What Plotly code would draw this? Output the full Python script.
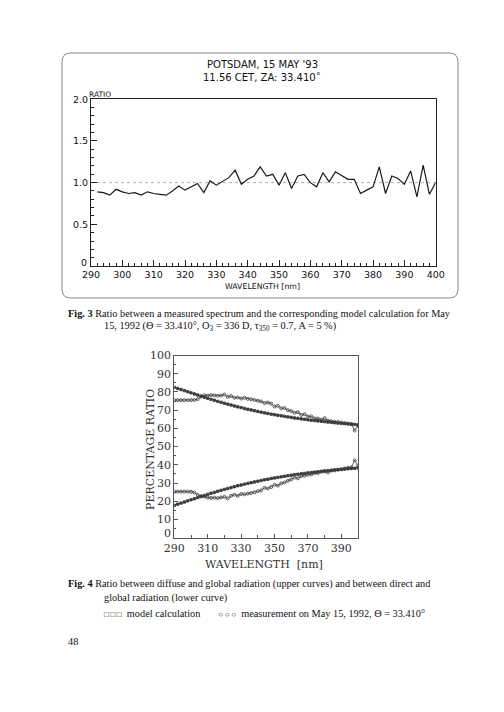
import plotly.graph_objects as go

# the page body adds an 8 px margin, so the figure is drawn 8 px in and down
OFF = 8
W, H = 504 - OFF, 712 - OFF

# ---------------- Fig. 3 data ----------------
wl3 = list(range(292, 401, 2))
ratio3 = [0.89, 0.88, 0.85, 0.92, 0.89, 0.87, 0.88, 0.85, 0.89, 0.87,
          0.86, 0.85, 0.90, 0.96, 0.91, 0.95, 0.99, 0.88, 1.02, 0.97,
          1.01, 1.06, 1.15, 0.98, 1.04, 1.08, 1.19, 1.08, 1.10, 0.97,
          1.12, 0.93, 1.08, 1.10, 1.00, 0.95, 1.12, 1.01, 1.13, 1.08,
          1.04, 1.04, 0.87, 0.91, 0.95, 1.19, 0.87, 1.08, 1.05, 0.98,
          1.14, 0.83, 1.21, 0.86, 1.00]
x3_ticks = list(range(290, 401, 10))
y3_ticks = [0.5, 1.0, 1.5, 2.0]
y3_ticktext = ["0.5", "1.0", "1.5", "2.0"]

# ---------------- Fig. 4 data ----------------
wl4 = list(range(290, 401, 2))
upper_model = [82.5, 81.9, 81.3, 80.7, 80.1, 79.5, 78.9, 78.3, 77.7, 77.1,
               76.5, 75.9, 75.4, 74.8, 74.3, 73.8, 73.3, 72.8, 72.3, 71.8,
               71.4, 70.9, 70.5, 70.1, 69.7, 69.3, 68.9, 68.5, 68.2, 67.8,
               67.5, 67.2, 66.9, 66.6, 66.3, 66.0, 65.7, 65.5, 65.2, 65.0,
               64.7, 64.5, 64.3, 64.1, 63.9, 63.7, 63.5, 63.3, 63.1, 62.9,
               62.8, 62.6, 62.5, 62.3, 62.2, 62.0]
upper_meas = [75.5, 75.5, 75.5, 75.5, 75.5, 75.5, 75.6, 76.0, 77.5, 78.2,
              78.0, 78.3, 78.1, 77.9, 78.0, 78.6, 77.3, 77.8, 76.8, 77.0,
              76.4, 76.8, 76.2, 76.0, 75.6, 75.2, 74.8, 73.9, 74.2, 73.6,
              72.0, 72.4, 71.0, 71.2, 70.0, 69.5, 68.6, 68.9, 67.4, 67.8,
              66.5, 66.6, 65.5, 65.4, 64.8, 65.6, 64.2, 64.0, 63.6, 63.5,
              63.2, 62.9, 62.6, 62.4, 58.8, 61.5]
lower_model = [17.8, 18.4, 19.0, 19.6, 20.2, 20.8, 21.4, 22.0, 22.6, 23.2,
               23.8, 24.4, 24.9, 25.5, 26.0, 26.5, 27.0, 27.5, 28.0, 28.5,
               28.9, 29.4, 29.8, 30.2, 30.6, 31.0, 31.4, 31.8, 32.1, 32.5,
               32.8, 33.1, 33.4, 33.7, 34.0, 34.3, 34.6, 34.8, 35.1, 35.3,
               35.6, 35.8, 36.0, 36.2, 36.4, 36.6, 36.8, 37.0, 37.2, 37.4,
               37.5, 37.7, 37.8, 38.0, 38.1, 38.3]
lower_meas = [25.3, 25.3, 25.3, 25.3, 25.3, 25.2, 24.8, 23.5, 22.8, 22.5,
              22.0, 21.8, 22.0, 21.7, 22.1, 22.4, 21.6, 23.0, 23.6, 23.0,
              24.0, 23.8, 24.2, 24.5, 24.9, 25.5, 26.0, 27.4, 27.0, 27.8,
              29.0, 28.6, 29.8, 30.3, 31.2, 32.0, 33.0, 32.6, 33.8, 34.0,
              34.6, 34.7, 35.4, 35.5, 36.2, 36.4, 35.8, 36.8, 36.9, 37.3,
              37.6, 38.0, 38.4, 38.6, 42.5, 39.5]
x4_ticks = list(range(290, 391, 20))
y4_ticks = list(range(10, 101, 10))


def px(x):
    return (x - OFF) / W


def py(y):
    return 1 - (y - OFF) / H


fig = go.Figure()

# Fig. 3 line
fig.add_trace(go.Scatter(x=wl3, y=ratio3, mode="lines",
                         line=dict(color="#1a1a1a", width=1.2),
                         xaxis="x", yaxis="y", showlegend=False))

# Fig. 4 curves
for ys, sym, sz in [(upper_model, "square", 2.4), (upper_meas, "circle-open", 3),
                    (lower_model, "square", 2.4), (lower_meas, "circle-open", 3)]:
    fig.add_trace(go.Scatter(x=wl4, y=ys, mode="lines+markers",
                             line=dict(color="#3a3a3a", width=0.8),
                             marker=dict(symbol=sym, size=sz, color="#3a3a3a",
                                         line=dict(color="#3a3a3a", width=0.8)),
                             xaxis="x2", yaxis="y2", showlegend=False))

sans = "DejaVu Sans, sans-serif"
serif_fig = "DejaVu Serif, serif"
times = "Liberation Serif, Times New Roman, serif"

fig.update_layout(
    width=W, height=H,
    margin=dict(l=0, r=0, t=0, b=0, pad=0, autoexpand=False),
    paper_bgcolor="white", plot_bgcolor="white",
    xaxis=dict(domain=[px(91), px(435.7)], range=[290, 400], automargin=False,
               tickvals=x3_ticks, ticks="inside", ticklen=6, tickwidth=1,
               tickcolor="#222", showline=True, linecolor="#222", linewidth=1,
               mirror=True, showgrid=False, zeroline=False,
               tickfont=dict(family=sans, size=9.5, color="#111"),
               minor=dict(dtick=2, tick0=290, ticks="inside", ticklen=3,
                          tickcolor="#222", showgrid=False),
               anchor="y"),
    yaxis=dict(domain=[py(266), py(99.3)], range=[0, 2], automargin=False,
               tickvals=y3_ticks, ticktext=y3_ticktext,
               ticks="inside", ticklen=6, tickwidth=1, tickcolor="#222",
               showline=True, linecolor="#222", linewidth=1, mirror=True,
               showgrid=False, zeroline=False,
               tickfont=dict(family=sans, size=9.5, color="#111"),
               minor=dict(dtick=0.1, tick0=0, ticks="inside", ticklen=3,
                          tickcolor="#222", showgrid=False),
               anchor="x"),
    xaxis2=dict(domain=[px(174.3), px(358)], range=[290, 400], automargin=False,
                tickvals=x4_ticks, ticks="inside", ticklen=4, tickwidth=1,
                tickcolor="#555", showline=True, linecolor="#555",
                linewidth=1, mirror=True, showgrid=False, zeroline=False,
                tickfont=dict(family=serif_fig, size=11, color="#333"),
                minor=dict(dtick=10, tick0=290, ticks="inside", ticklen=3,
                           tickcolor="#555", showgrid=False),
                anchor="y2"),
    yaxis2=dict(domain=[py(537.7), py(355.5)], range=[0, 100], automargin=False,
                tickvals=y4_ticks, ticks="inside", ticklen=4, tickwidth=1,
                tickcolor="#555", showline=True, linecolor="#555",
                linewidth=1, mirror=True, showgrid=False, zeroline=False,
                tickfont=dict(family=serif_fig, size=11, color="#333"),
                minor=dict(dtick=5, tick0=0, ticks="inside", ticklen=2,
                           tickcolor="#555", showgrid=False),
                anchor="x2"),
)

# reference line at ratio 1.0
fig.add_shape(type="line", xref="x", yref="y", x0=290, x1=400, y0=1, y1=1,
              line=dict(color="#aaaaaa", width=1, dash="dot"), layer="below")

# rounded frame around Fig. 3
L, R, T, B, r = 62, 458, 53, 298, 9
path = (f"M {px(L + r)},{py(T)} L {px(R - r)},{py(T)} "
        f"Q {px(R)},{py(T)} {px(R)},{py(T + r)} "
        f"L {px(R)},{py(B - r)} Q {px(R)},{py(B)} {px(R - r)},{py(B)} "
        f"L {px(L + r)},{py(B)} Q {px(L)},{py(B)} {px(L)},{py(B - r)} "
        f"L {px(L)},{py(T + r)} Q {px(L)},{py(T)} {px(L + r)},{py(T)} Z")
fig.add_shape(type="path", xref="paper", yref="paper", path=path,
              line=dict(color="#888888", width=1))


def ann(text, x, y, size, family, xanchor="center", color="#111", angle=0):
    fig.add_annotation(text=text, x=px(x), y=py(y), xref="paper",
                       yref="paper", xanchor=xanchor, yanchor="middle",
                       showarrow=False, textangle=angle, borderpad=0,
                       font=dict(size=size, family=family, color=color))


# Fig. 3 texts
ann("POTSDAM, 15 MAY '93", 262, 64, 10, sans)
ann("11.56 CET, ZA: 33.410˚", 262, 77, 10, sans)
ann("RATIO", 88, 94, 7.5, sans, xanchor="left")
ann("0", 84, 262, 9.5, sans)
ann("WAVELENGTH [nm]", 262, 287, 7.8, sans)

# Fig. 3 caption
ann("<b>Fig. 3</b> Ratio between a measured spectrum and the corresponding model calculation for May",
    67, 313, 10.3, times, xanchor="left")
ann("15, 1992 (Θ = 33.410°, O<sub>3</sub> = 336 D, τ<sub>350</sub> = 0.7, A = 5 %)",
    103, 326, 10.3, times, xanchor="left")

# Fig. 4 texts
ann("0", 167, 533, 11, serif_fig, color="#333")
ann("PERCENTAGE RATIO", 150, 450, 11, serif_fig, color="#333", angle=-90)
ann("WAVELENGTH\u00a0\u00a0[nm]", 264, 564, 11, serif_fig, color="#333")

# Fig. 4 caption
ann("<b>Fig. 4</b> Ratio between diffuse and global radiation (upper curves) and between direct and",
    67, 584, 10.3, times, xanchor="left")
ann("global radiation (lower curve)", 103, 598, 10.3, times, xanchor="left")
sq = "<span style='font-size:8px'>□\u2009□\u2009□</span>"
ci = "<span style='font-size:8px'>○\u2009○\u2009○</span>"
ann(sq + "\u00a0\u00a0model calculation\u00a0\u00a0\u00a0\u00a0\u00a0\u00a0\u00a0" + ci
    + "\u00a0\u00a0measurement on May 15, 1992, Θ = 33.410°",
    103, 613, 10.3, times, xanchor="left")
ann("48", 67, 641, 10.3, times, xanchor="left")

fig.write_html("out.html")
